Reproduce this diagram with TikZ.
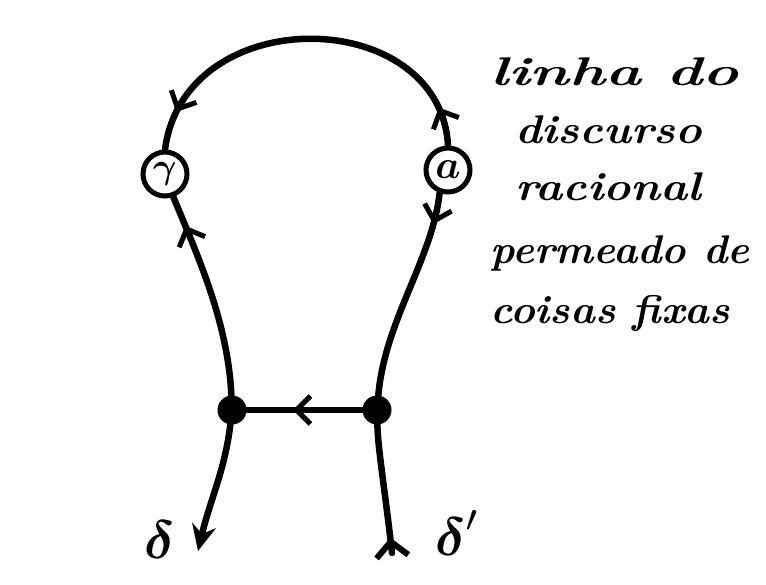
\documentclass[tikz,border=0pt]{standalone}
\usepackage{amsmath}
\usetikzlibrary{arrows.meta,decorations.markings}
\begin{document}
\begin{tikzpicture}[x=1pt,y=-1pt,
  ln/.style={line width=6.5pt, line cap=round},
  circnode/.style={circle, draw, line width=5pt, minimum size=44pt, inner sep=0pt},
  dotnode/.style={circle, fill, minimum size=29pt, inner sep=0pt},
  arrowat/.style={postaction={decorate}, decoration={markings, mark=at position #1 with {\arrow{Straight Barb[length=14pt,width=28pt,line width=5pt]}}}},
  twoarrows/.style={postaction={decorate}, decoration={markings,
     mark=at position 0.1 with {\arrow{Straight Barb[length=14pt,width=28pt,line width=5pt]}},
     mark=at position 0.9 with {\arrow{Straight Barb[length=14pt,width=28pt,line width=5pt]}}}},
  txt/.style={anchor=base west, inner sep=0pt, font=\fontsize{40}{44}\selectfont\bfseries\itshape}
]
\useasboundingbox (0,0) rectangle (766,584);
\fill[white] (0,0) rectangle (766,584);

\node[circnode] (g) at (165,174) {\scalebox{3.6}{$\boldsymbol{\gamma}$}};
\node[circnode] (a) at (448,170) {\scalebox{4}{$\boldsymbol{a}$}};
\node[dotnode] (l) at (232,410) {};
\node[dotnode] (r) at (377,410) {};
\coordinate (d1) at (198,551);
\coordinate (d2) at (392,553);

% arc a -> gamma
\draw[ln, twoarrows] (a.north) .. controls (440,5) and (185,0) .. (g.north);
% left dot -> gamma
\draw[ln, arrowat=0.85] (l) .. controls (228,320) and (195,250) .. (g.-70);
% a -> right dot
\draw[ln, arrowat=0.15] (a.-110) .. controls (432,260) and (385,320) .. (r);
% right dot -> left dot
\draw[ln, arrowat=0.6] (r) -- (l);
% left dot -> delta
\draw[ln, -{Stealth[length=26pt,width=24pt]}] (l) .. controls (225,470) and (210,500) .. (d1);
% delta' -> right dot
\draw[ln, postaction={decorate}, decoration={markings, mark=at position 0.12 with {\arrow{Straight Barb[length=15pt,width=32pt,line width=6pt]}}}] (d2) .. controls (385,490) and (378,450) .. (r);

\node (dl) at (160,540) {\scalebox{5.4}{$\boldsymbol{\delta}$}};
\node (dr) at (458,533) {\scalebox{5.4}{$\boldsymbol{\delta}'$}};

\node[txt] (t1) at (490,85) {\scalebox{1.52}[1]{linha do}};
\node[txt] (t2) at (515,143) {\scalebox{1.12}[1]{discurso}};
\node[txt] (t3) at (515,200) {\scalebox{1.15}[1]{racional}};
\node[txt] (t4) at (490,263) {\scalebox{1.03}[1]{permeado de}};
\node[txt] (t5) at (490,323) {\scalebox{1.05}[1]{coisas fixas}};
\end{tikzpicture}
\end{document}
